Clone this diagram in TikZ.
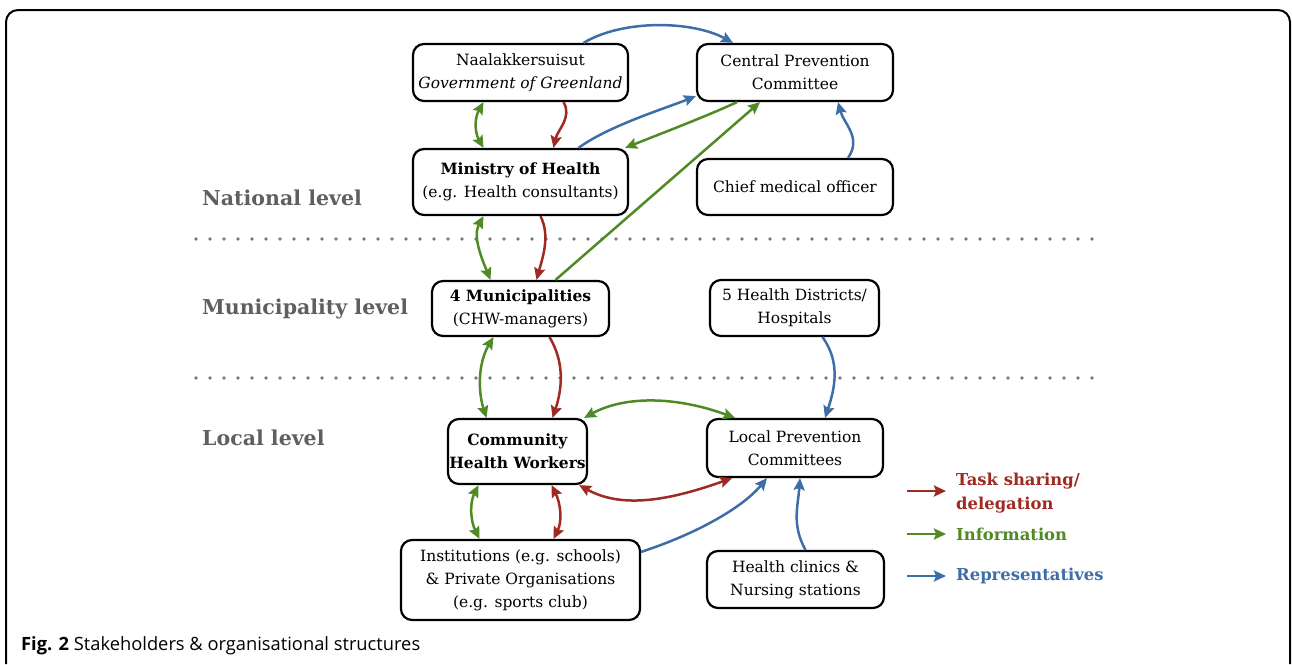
\documentclass[tikz,border=0pt]{standalone}
\usepackage{fontspec}
\setmainfont{DejaVu Serif}
\newfontfamily\capfont{Open Sans}
\usetikzlibrary{arrows.meta}
\definecolor{tred}{HTML}{9E2A23}
\definecolor{tgreen}{HTML}{4F8A24}
\definecolor{tblue}{HTML}{3E6DA8}
\definecolor{lvl}{HTML}{5F5F5F}
\begin{document}
\begin{tikzpicture}[x=1pt,y=-1pt,
  box/.style={draw=black,line width=2.2pt,rounded corners=11pt,align=center,
    font=\fontsize{15.5}{23}\selectfont,inner sep=0pt},
  lvlstyle/.style={anchor=west,text=lvl,font=\bfseries\fontsize{20.5}{24}\selectfont,inner sep=0pt},
  ar/.style={line width=2.5pt,-{Stealth[length=12pt,width=11pt,inset=2pt]}},
  dar/.style={line width=2.5pt,{Stealth[length=12pt,width=11pt,inset=2pt]}-{Stealth[length=12pt,width=11pt,inset=2pt]}},
  dotline/.style={draw=lvl!85,line width=3.6pt,line cap=round,dash pattern=on 0pt off 14pt},
  legtext/.style={anchor=west,align=left,inner sep=0pt,font=\bfseries\fontsize{16.4}{24}\selectfont}
]
\useasboundingbox (0,0) rectangle (1292,664);
% frame
\draw[line width=2pt,rounded corners=12pt] (6,664) |- (1290,10) -- (1290,664);

% level lines and labels
\draw[dotline] (196,239) -- (1102,239);
\draw[dotline] (196,378) -- (1102,378);
\node[lvlstyle] (natl) at (202,198) {National level};
\node[lvlstyle] (munl) at (202,309) {Municipality level};
\node[lvlstyle] (locl) at (202,438) {Local level};

% boxes
\node[box,minimum width=215pt,minimum height=57pt] (naal) at (520.5,72.5) {Naalakkersuisut\\\textit{Government of Greenland}};
\node[box,minimum width=196pt,minimum height=57pt] (cpc) at (795,72.5) {Central Prevention\\Committee};
\node[box,minimum width=215pt,minimum height=66pt] (moh) at (520.5,182) {\textbf{Ministry of Health}\\(e.g. Health consultants)};
\node[box,minimum width=196pt,minimum height=56pt] (cmo) at (795,187) {Chief medical officer};
\node[box,minimum width=177pt,minimum height=55pt] (mun) at (520.5,308.5) {\textbf{4 Municipalities}\\(CHW-managers)};
\node[box,minimum width=169pt,minimum height=56pt] (hd) at (794.5,308) {5 Health Districts/\\Hospitals};
\node[box,minimum width=139pt,minimum height=65pt] (chw) at (517.5,451.5) {\textbf{Community}\\\textbf{Health Workers}};
\node[box,minimum width=176pt,minimum height=58pt] (lpc) at (795,448) {Local Prevention\\Committees};
\node[box,minimum width=239pt,minimum height=80pt] (inst) at (520.5,580) {Institutions (e.g. schools)\\\& Private Organisations\\(e.g. sports club)};
\node[box,minimum width=177pt,minimum height=57pt] (hc) at (795.5,579.5) {Health clinics \&\\Nursing stations};

% national level connectors
\draw[dar,tgreen] ([xshift=-37pt]naal.south) .. controls +(-9,16) and +(-9,-16) .. ([xshift=-37pt]moh.north);
\draw[ar,tred] ([xshift=43pt]naal.south) .. controls +(9,15) and +(4,-18) .. ([xshift=33pt]moh.north);
\draw[ar,tblue] ([xshift=63pt]naal.north) .. controls +(40,-24) and +(-40,-22) .. ([xshift=-62pt]cpc.north);
\draw[ar,tblue] ([xshift=58pt]moh.north) .. controls +(30,-22) and +(-30,12) .. ([yshift=6pt]cpc.south west);
\draw[ar,tgreen] ([xshift=-58pt]cpc.south) .. controls +(-30,14) and +(35,-14) .. ([xshift=-4pt]moh.north east);
\draw[ar,tgreen] ([xshift=35pt]mun.north) -- ([xshift=-35pt]cpc.south);
\draw[ar,tblue] ([xshift=53pt]cmo.north) .. controls +(14,-20) and +(6,22) .. ([xshift=43pt]cpc.south);

% national -> municipality
\draw[dar,tgreen] ([xshift=-37pt]moh.south) .. controls +(-11,20) and +(-9,-22) .. ([xshift=-30pt]mun.north);
\draw[ar,tred] ([xshift=20pt]moh.south) .. controls +(10,20) and +(6,-22) .. ([xshift=16pt]mun.north);

% municipality -> local
\draw[dar,tgreen] ([xshift=-27pt]mun.south) .. controls +(-15,25) and +(-9,-28) .. ([xshift=-31pt]chw.north);
\draw[ar,tred] ([xshift=29pt]mun.south) .. controls +(15,25) and +(10,-30) .. ([xshift=35pt]chw.north);
\draw[ar,tblue] ([xshift=28pt]hd.south) .. controls +(18,25) and +(10,-30) .. ([xshift=30pt]lpc.north);

% local level
\draw[dar,tgreen] ([xshift=-4pt]chw.north east) .. controls +(40,-22) and +(-60,-22) .. ([xshift=-60pt]lpc.north);
\draw[dar,tred] ([xshift=-9pt]chw.south east) .. controls +(40,22) and +(-70,25) .. ([xshift=-63pt]lpc.south);
\draw[dar,tgreen] ([xshift=-39pt]chw.south) .. controls +(-9,18) and +(-9,-18) .. ([xshift=-41pt]inst.north);
\draw[dar,tred] ([xshift=34pt]chw.south) .. controls +(9,18) and +(9,-18) .. ([xshift=33pt]inst.north);
\draw[ar,tblue] ([yshift=-13pt]inst.north east) .. controls +(55,-18) and +(-25,30) .. ([xshift=-28pt]lpc.south);
\draw[ar,tblue] ([xshift=10pt]hc.north) .. controls +(-14,-25) and +(-2,28) .. ([xshift=5pt]lpc.south);

% legend
\coordinate (l1a) at (907,491); \coordinate (l1b) at (946,491);
\coordinate (l2a) at (907,534); \coordinate (l2b) at (946,534);
\coordinate (l3a) at (907,576); \coordinate (l3b) at (946,576);
\draw[ar,tred] (l1a) -- (l1b);
\draw[ar,tgreen] (l2a) -- (l2b);
\draw[ar,tblue] (l3a) -- (l3b);
\node[legtext,text=tred] (lt1) at (956,493) {Task sharing/\\delegation};
\node[legtext,text=tgreen] (lt2) at (956,534) {Information};
\node[legtext,text=tblue] (lt3) at (956,576) {Representatives};

% caption
\node[anchor=west,inner sep=0pt,font=\capfont\fontsize{18.3}{22}\selectfont] (cap) at (21,646) {\textbf{Fig. 2} Stakeholders \& organisational structures};
\end{tikzpicture}
\end{document}
